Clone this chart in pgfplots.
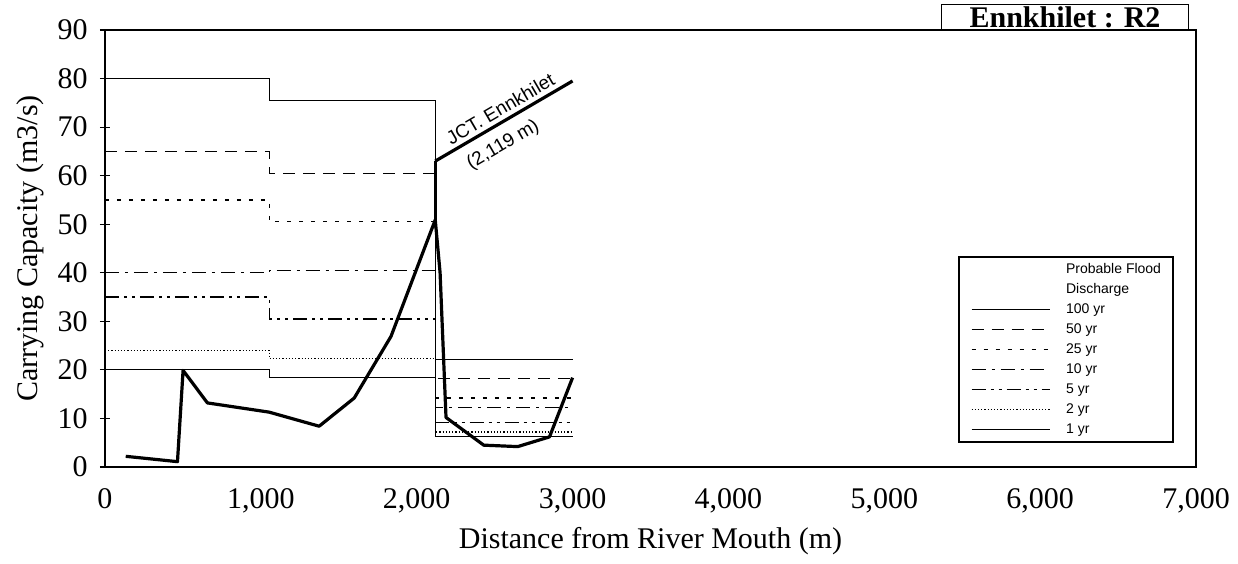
\documentclass[border=0pt]{standalone}
\usepackage{fontspec}
\setmainfont{Liberation Serif}
\newfontfamily\legfont{Liberation Sans}
\usepackage{pgfplots}
\pgfplotsset{compat=1.18}
\pgfplotsset{legend image code/.code={\draw[#1] (0pt,0pt) -- (39pt,0pt);}}
\begin{document}
\begin{tikzpicture}
\useasboundingbox (0,0) rectangle (619pt,281.5pt);
\begin{axis}[
  at={(52.5pt,48pt)}, anchor=south west,
  scale only axis, width=545.5pt, height=218.5pt,
  xmin=0, xmax=7000, ymin=0, ymax=90,
  axis line style={line width=1pt},
  xtick={0,1000,2000,3000,4000,5000,6000,7000},
  xticklabels={0,{1,000},{2,000},{3,000},{4,000},{5,000},{6,000},{7,000}},
  ytick={0,10,20,30,40,50,60,70,80,90},
  ytick pos=left,
  tick align=center, major tick length=5pt,
  xtick style={draw=none},
  ytick style={line width=0.6pt, black},
  ticklabel style={font=\fontsize{15}{18}\selectfont},
  /pgf/number format/assume math mode=true,
  xticklabel style={anchor=north, inner sep=0pt, yshift=-8pt},
  yticklabel style={anchor=east, inner sep=0pt, xshift=-6pt},
  xlabel={Distance from River Mouth (m)},
  ylabel={Carrying Capacity (m3/s)},
  label style={font=\fontsize{15}{18}\selectfont},
  xlabel style={at={([yshift=-37pt]axis description cs:0.5,0)}, anchor=center},
  ylabel style={at={([xshift=-37.5pt]axis description cs:0,0.5)}, anchor=center},
  legend cell align=left,
  legend style={at={(axis cs:5473,43.5)}, anchor=north west, draw=black, line width=0.9pt, fill=white,
    font=\legfont\fontsize{7}{8}\selectfont, inner xsep=6pt, inner ysep=3pt,
    /tikz/row sep=3.3pt, /tikz/column sep=8pt,
    nodes={inner sep=0pt, text height=5.2pt, text depth=1.5pt}},
]
\addlegendimage{empty legend}\addlegendentry{Probable Flood}
\addlegendimage{empty legend}\addlegendentry{Discharge}
% 100 yr
\addplot[black, line width=0.6pt] coordinates {(0,80) (1053,80) (1053,75.5) (2119,75.5) (2119,22.2) (3000,22.2)};
\addlegendentry{100 yr}
% 50 yr
\addplot[black, line width=0.6pt, dash pattern=on 6pt off 4pt] coordinates {(0,65) (1053,65) (1053,60.5) (2119,60.5) (2119,18.2) (3000,18.2)};
\addlegendentry{50 yr}
% 25 yr
\addplot[black, line width=0.6pt, dash pattern=on 2pt off 4pt] coordinates {(0,55) (1053,55) (1053,50.5) (2119,50.5) (2119,14.2) (3000,14.2)};
\addlegendentry{25 yr}
% 10 yr
\addplot[black, line width=0.6pt, dash pattern=on 7pt off 3pt on 1.5pt off 3pt] coordinates {(0,40) (1053,40) (1053,40.5) (2119,40.5) (2119,12.2) (3000,12.2)};
\addlegendentry{10 yr}
% 5 yr
\addplot[black, line width=0.6pt, dash pattern=on 7pt off 2.5pt on 1.5pt off 2.5pt on 1.5pt off 2.5pt] coordinates {(0,35) (1053,35) (1053,30.5) (2119,30.5) (2119,9.2) (3000,9.2)};
\addlegendentry{5 yr}
% 2 yr
\addplot[black, line width=0.6pt, dash pattern=on 0.6pt off 1pt] coordinates {(0,24) (1053,24) (1053,22.3) (2119,22.3) (2119,7.2) (3000,7.2)};
\addlegendentry{2 yr}
% 1 yr
\addplot[black, line width=0.6pt] coordinates {(0,20) (1053,20) (1053,18.5) (2119,18.5) (2119,6.2) (3000,6.2)};
\addlegendentry{1 yr}
% carrying capacity
\addplot[black, line width=1.6pt, line join=round, forget plot] coordinates {
 (133,2.2) (465,1.1) (501,19.9) (657,13.2) (1053,11.3) (1374,8.4) (1599,14.2) (1835,26.9)
 (2119,50.9) (2150,40) (2188,10.2) (2430,4.5) (2648,4.2) (2852,6.2) (3000,18.4)};
% JCT leader
\addplot[black, line width=1.6pt, forget plot] coordinates {(2119,50.9) (2119,63)};
\addplot[black, line width=1.6pt, forget plot] coordinates {(2119,63) (3000,79.5)}
  node[pos=0.52, sloped, above, inner sep=2pt, font=\legfont\fontsize{9.5}{10}\selectfont] {JCT. Ennkhilet}
  node[pos=0.42, sloped, below, inner sep=5pt, font=\legfont\fontsize{9.5}{10}\selectfont] {(2,119 m)};
\end{axis}
\node[draw, line width=0.5pt, inner xsep=14pt, inner ysep=1.5pt, text height=10pt, text depth=0pt]
  at (532.5pt,272.5pt) {\fontsize{15}{17}\selectfont\bfseries Ennkhilet : R2};
\end{tikzpicture}
\end{document}
